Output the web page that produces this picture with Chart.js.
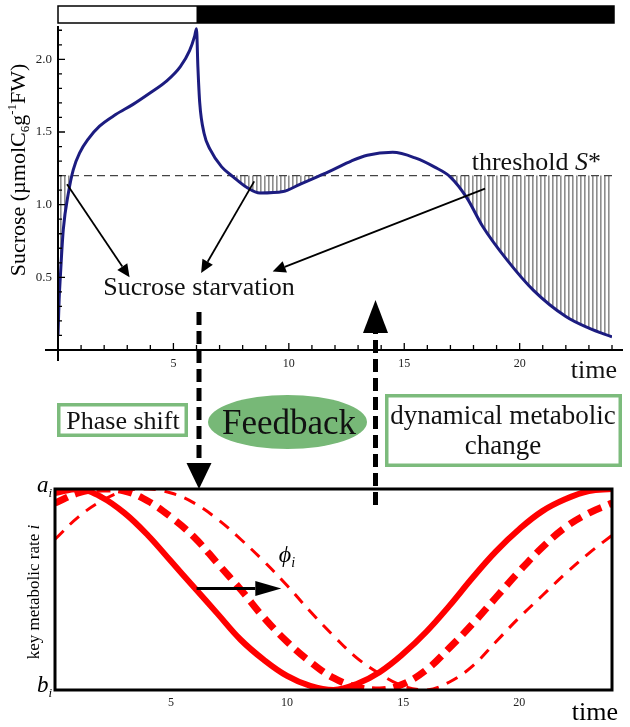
<!DOCTYPE html>
<html>
<head>
<meta charset="utf-8">
<script src="https://cdn.jsdelivr.net/npm/chart.js@4"></script>
<style>
html, body { margin: 0; padding: 0; background: #fff; }
#wrap { position: relative; width: 630px; height: 727px; }
#wrap canvas { position: absolute; left: 0; top: 0; }
</style>
</head>
<body>
<div id="wrap">
<canvas id="rate" width="630" height="727"></canvas>
<canvas id="sucrose" width="630" height="727"></canvas>
</div>
<script>
// top panel: sucrose level over the day
var sucroseTime  = [0, 0.05, 0.1, 0.23, 0.45, 0.66, 0.95, 1.3, 1.8, 2.5, 3.25, 4.0, 4.7, 5.3, 5.7, 5.92, 6.0, 6.06, 6.14, 6.33, 6.59, 7.09, 7.6, 8.17, 8.75, 9.75, 10.48, 11.2, 11.9, 12.7, 13.4, 14.5, 15.5, 16.3, 17.0, 17.7, 18.4, 19.45, 20.6, 22.0, 23.0, 24.0];
var sucroseLevel = [0.1, 0.35, 0.5, 0.83, 1.08, 1.24, 1.36, 1.45, 1.54, 1.62, 1.69, 1.77, 1.85, 1.95, 2.06, 2.16, 2.21, 1.95, 1.7, 1.49, 1.38, 1.26, 1.19, 1.12, 1.08, 1.09, 1.14, 1.19, 1.24, 1.3, 1.34, 1.36, 1.32, 1.26, 1.19, 1.05, 0.85, 0.62, 0.41, 0.23, 0.15, 0.09];
var threshold = 1.2;
var lightPeriod = [0, 6];
var darkPeriod = [6, 24];
var topXTicks = [5, 10, 15, 20];
var topYTicks = [0.5, 1.0, 1.5, 2.0];

// bottom panel: key metabolic rate, original and phase shifted
var hours      = [0, 1, 2, 3, 4, 5, 6, 7, 8, 9, 10, 11, 12, 13, 14, 15, 16, 17, 18, 19, 20, 21, 22, 23, 24];
var rateBase   = [0.98, 1.0, 0.96, 0.88, 0.77, 0.64, 0.51, 0.38, 0.25, 0.15, 0.07, 0.02, 0.0, 0.03, 0.09, 0.18, 0.29, 0.42, 0.56, 0.69, 0.8, 0.89, 0.95, 0.99, 1.0];
var rateShift1 = [0.93, 0.98, 1.0, 0.99, 0.94, 0.86, 0.76, 0.63, 0.5, 0.36, 0.24, 0.14, 0.06, 0.015, 0.0, 0.03, 0.1, 0.21, 0.33, 0.46, 0.59, 0.71, 0.81, 0.88, 0.93];
var rateShift2 = [0.75, 0.86, 0.94, 0.99, 1.0, 0.98, 0.93, 0.85, 0.75, 0.64, 0.52, 0.39, 0.27, 0.16, 0.08, 0.02, 0.0, 0.04, 0.12, 0.24, 0.36, 0.47, 0.58, 0.68, 0.77];
var bottomXTicks = [5, 10, 15, 20];

var SERIF = "'Liberation Serif', 'Times New Roman', serif";
var GREEN = '#7cbb7c';

function pts(xs, ys) {
    return xs.map(function(x, i){ return {x: x, y: ys[i]}; });
}

function textRuns(ctx, parts, x, y, align) {
    var w = 0;
    parts.forEach(function(p){ ctx.font = p.font; p.w = ctx.measureText(p.t).width; w += p.w; });
    var cx = align === 'center' ? x - w / 2 : (align === 'right' ? x - w : x);
    ctx.textAlign = 'left';
    ctx.textBaseline = 'alphabetic';
    parts.forEach(function(p){ ctx.font = p.font; ctx.fillText(p.t, cx, y + (p.dy || 0)); cx += p.w; });
}

function arrow(ctx, x1, y1, x2, y2, width, headLen, headW) {
    var a = Math.atan2(y2 - y1, x2 - x1);
    var bx = x2 - headLen * Math.cos(a), by = y2 - headLen * Math.sin(a);
    ctx.lineWidth = width;
    ctx.beginPath(); ctx.moveTo(x1, y1); ctx.lineTo(bx, by); ctx.stroke();
    ctx.beginPath();
    ctx.moveTo(x2, y2);
    ctx.lineTo(bx + headW * Math.sin(a), by - headW * Math.cos(a));
    ctx.lineTo(bx - headW * Math.sin(a), by + headW * Math.cos(a));
    ctx.closePath(); ctx.fill();
}

function dashedArrow(ctx, x, yFrom, yTo, tipY, baseY) {
    ctx.save();
    ctx.strokeStyle = '#000'; ctx.fillStyle = '#000';
    ctx.lineWidth = 5; ctx.setLineDash([13, 6]);
    ctx.beginPath(); ctx.moveTo(x, yFrom); ctx.lineTo(x, yTo); ctx.stroke();
    ctx.setLineDash([]);
    ctx.beginPath();
    ctx.moveTo(x, tipY); ctx.lineTo(x - 12.5, baseY); ctx.lineTo(x + 12.5, baseY);
    ctx.closePath(); ctx.fill();
    ctx.restore();
}

// gray vertical hatch used under the threshold
var hatch = document.createElement('canvas');
hatch.width = 4; hatch.height = 4;
var hctx = hatch.getContext('2d');
hctx.fillStyle = '#8e8e8e';
hctx.fillRect(0, 0, 1.6, 4);
var topCanvas = document.getElementById('sucrose');
var hatchPattern = topCanvas.getContext('2d').createPattern(hatch, 'repeat');

var sucroseDecor = {
    id: 'sucroseDecor',
    afterDraw: function(chart) {
        var ctx = chart.ctx, xs = chart.scales.x, ys = chart.scales.y;
        var X = function(v){ return xs.getPixelForValue(v); };
        var Y = function(v){ return ys.getPixelForValue(v); };
        ctx.save();
        ctx.strokeStyle = '#000'; ctx.fillStyle = '#000';

        // axes crossing at the origin
        ctx.lineWidth = 2;
        ctx.beginPath();
        ctx.moveTo(45, Y(0)); ctx.lineTo(623, Y(0));
        ctx.moveTo(X(0), Y(0) + 11); ctx.lineTo(X(0), 26);
        ctx.stroke();
        ctx.lineWidth = 1.3;
        ctx.beginPath();
        for (var t = 1; t <= 24; t++) {
            ctx.moveTo(X(t), Y(0)); ctx.lineTo(X(t), Y(0) - (t % 5 === 0 ? 7 : 5));
        }
        for (var k = 1; k <= 22; k++) {
            var v = k / 10;
            ctx.moveTo(X(0), Y(v)); ctx.lineTo(X(0) + (k % 5 === 0 ? 7 : 4), Y(v));
        }
        ctx.stroke();

        // light / dark period bar
        ctx.lineWidth = 1.5;
        ctx.fillStyle = '#fff';
        ctx.fillRect(X(lightPeriod[0]), 6, X(lightPeriod[1]) - X(lightPeriod[0]), 17);
        ctx.fillStyle = '#000';
        ctx.fillRect(X(darkPeriod[0]), 6, X(darkPeriod[1]) - X(darkPeriod[0]) + 2, 17);
        ctx.strokeRect(X(lightPeriod[0]), 6, X(darkPeriod[1]) - X(lightPeriod[0]) + 2, 17);

        // y title with sub / superscript
        ctx.save();
        ctx.translate(25, 170);
        ctx.rotate(-Math.PI / 2);
        textRuns(ctx, [
            {t: 'Sucrose (\u00b5molC', font: '22px ' + SERIF},
            {t: '6', font: '13px ' + SERIF, dy: 4},
            {t: 'g', font: '22px ' + SERIF},
            {t: '-1', font: '13px ' + SERIF, dy: -9},
            {t: 'FW)', font: '22px ' + SERIF}
        ], 0, 0, 'center');
        ctx.restore();

        // starvation arrows
        ctx.fillStyle = '#000'; ctx.strokeStyle = '#000';
        arrow(ctx, X(0.39), Y(1.14), X(3.1), Y(0.5), 1.8, 13, 6);
        arrow(ctx, X(8.5), Y(1.16), X(6.2), Y(0.53), 1.8, 13, 6);
        arrow(ctx, X(18.5), Y(1.11), X(9.3), Y(0.54), 1.8, 13, 6);

        ctx.fillStyle = '#111';
        textRuns(ctx, [{t: 'Sucrose starvation', font: '26px ' + SERIF}], 199, 295, 'center');
        textRuns(ctx, [
            {t: 'threshold ', font: '26px ' + SERIF},
            {t: 'S', font: 'italic 26px ' + SERIF},
            {t: '*', font: '26px ' + SERIF}
        ], 601, 170, 'right');
        textRuns(ctx, [{t: 'time', font: '26px ' + SERIF}], 617, 378, 'right');

        // feedback links between the panels
        dashedArrow(ctx, 199, 312, 466, 489, 463);
        dashedArrow(ctx, 375.5, 505, 330, 300, 333);

        ctx.lineWidth = 3.5; ctx.strokeStyle = GREEN;
        ctx.fillStyle = '#fff';
        ctx.fillRect(58.75, 404.75, 127.5, 30.5);
        ctx.strokeRect(58.75, 404.75, 127.5, 30.5);
        ctx.fillRect(386.75, 395.75, 233.5, 69.5);
        ctx.strokeRect(386.75, 395.75, 233.5, 69.5);
        ctx.fillStyle = '#77b877';
        ctx.beginPath(); ctx.ellipse(287.5, 422, 79.5, 27, 0, 0, Math.PI * 2); ctx.fill();

        ctx.fillStyle = '#111';
        textRuns(ctx, [{t: 'Phase shift', font: '26px ' + SERIF}], 123, 429, 'center');
        textRuns(ctx, [{t: 'Feedback', font: '35px ' + SERIF}], 289, 434, 'center');
        textRuns(ctx, [{t: 'dynamical metabolic', font: '27px ' + SERIF}], 503, 424, 'center');
        textRuns(ctx, [{t: 'change', font: '27px ' + SERIF}], 503, 454, 'center');
        ctx.restore();
    }
};

var rateDecor = {
    id: 'rateDecor',
    afterDraw: function(chart) {
        var ctx = chart.ctx, a = chart.chartArea, xs = chart.scales.x, ys = chart.scales.y;
        ctx.save();
        ctx.strokeStyle = '#000'; ctx.fillStyle = '#000';
        ctx.lineWidth = 3;
        ctx.strokeRect(a.left, a.top, a.right - a.left, a.bottom - a.top);

        // phase shift arrow between the base and the shifted curve
        arrow(ctx, xs.getPixelForValue(6.1), ys.getPixelForValue(0.505),
              xs.getPixelForValue(9.75), ys.getPixelForValue(0.505), 3.2, 26, 7.5);
        textRuns(ctx, [
            {t: '\u03d5', font: 'italic 24px ' + SERIF},
            {t: 'i', font: 'italic 14px ' + SERIF, dy: 5}
        ], 287, 562, 'center');

        textRuns(ctx, [
            {t: 'a', font: 'italic 23px ' + SERIF},
            {t: 'i', font: 'italic 13px ' + SERIF, dy: 5}
        ], 52, 492, 'right');
        textRuns(ctx, [
            {t: 'b', font: 'italic 23px ' + SERIF},
            {t: 'i', font: 'italic 13px ' + SERIF, dy: 5}
        ], 52, 692, 'right');

        ctx.save();
        ctx.translate(39, 592);
        ctx.rotate(-Math.PI / 2);
        textRuns(ctx, [
            {t: 'key metabolic rate ', font: '17px ' + SERIF},
            {t: 'i', font: 'italic 17px ' + SERIF}
        ], 0, 0, 'center');
        ctx.restore();

        textRuns(ctx, [{t: 'time', font: '26px ' + SERIF}], 618, 720, 'right');
        ctx.restore();
    }
};

new Chart(topCanvas, {
    type: 'line',
    data: {
        datasets: [{
            data: pts(sucroseTime, sucroseLevel),
            borderColor: '#1c1c80',
            borderWidth: 3,
            pointRadius: 0,
            cubicInterpolationMode: 'monotone',
            fill: false
        }, {
            data: pts(sucroseTime, sucroseTime.map(function(){ return threshold; })),
            borderColor: '#444',
            borderWidth: 1.2,
            borderDash: [8, 5],
            pointRadius: 0,
            fill: {target: 0, above: hatchPattern, below: 'rgba(0,0,0,0)'}
        }]
    },
    options: {
        responsive: false,
        animation: false,
        layout: {padding: {left: 0, right: 18, top: 23, bottom: 0}},
        plugins: {legend: {display: false}, tooltip: {enabled: false}},
        scales: {
            x: {
                type: 'linear', min: 0, max: 24,
                grid: {display: false, drawTicks: false},
                border: {display: false},
                afterFit: function(s){ s.height = 377; },
                afterBuildTicks: function(s){ s.ticks = topXTicks.map(function(v){ return {value: v}; }); },
                ticks: {padding: 7, color: '#222', font: {family: SERIF, size: 12}, maxRotation: 0}
            },
            y: {
                min: 0, max: 2.25,
                grid: {display: false, drawTicks: false},
                border: {display: false},
                afterFit: function(s){ s.width = 58; },
                afterBuildTicks: function(s){ s.ticks = topYTicks.map(function(v){ return {value: v}; }); },
                ticks: {padding: 6, color: '#222', font: {family: SERIF, size: 13},
                        callback: function(v){ return v.toFixed(1); }}
            }
        }
    },
    plugins: [sucroseDecor]
});

new Chart(document.getElementById('rate'), {
    type: 'line',
    data: {
        datasets: [{
            data: pts(hours, rateBase),
            borderColor: '#ff0000', borderWidth: 6,
            pointRadius: 0, tension: 0.4, clip: 0
        }, {
            data: pts(hours, rateShift1),
            borderColor: '#ff0000', borderWidth: 7, borderDash: [14, 8],
            pointRadius: 0, tension: 0.4, clip: 0
        }, {
            data: pts(hours, rateShift2),
            borderColor: '#ff0000', borderWidth: 3, borderDash: [12, 9],
            pointRadius: 0, tension: 0.4, clip: 0
        }]
    },
    options: {
        responsive: false,
        animation: false,
        layout: {padding: {left: 0, right: 18, top: 489, bottom: 0}},
        plugins: {legend: {display: false}, tooltip: {enabled: false}},
        scales: {
            x: {
                type: 'linear', min: 0, max: 24,
                grid: {display: false, drawTicks: false},
                border: {display: false},
                afterFit: function(s){ s.height = 37; },
                afterBuildTicks: function(s){ s.ticks = bottomXTicks.map(function(v){ return {value: v}; }); },
                ticks: {padding: 6, color: '#222', font: {family: SERIF, size: 12}, maxRotation: 0}
            },
            y: {
                min: 0, max: 1,
                grid: {display: false, drawTicks: false},
                border: {display: false},
                afterFit: function(s){ s.width = 55; },
                ticks: {display: false}
            }
        }
    },
    plugins: [rateDecor]
});
</script>
</body>
</html>
